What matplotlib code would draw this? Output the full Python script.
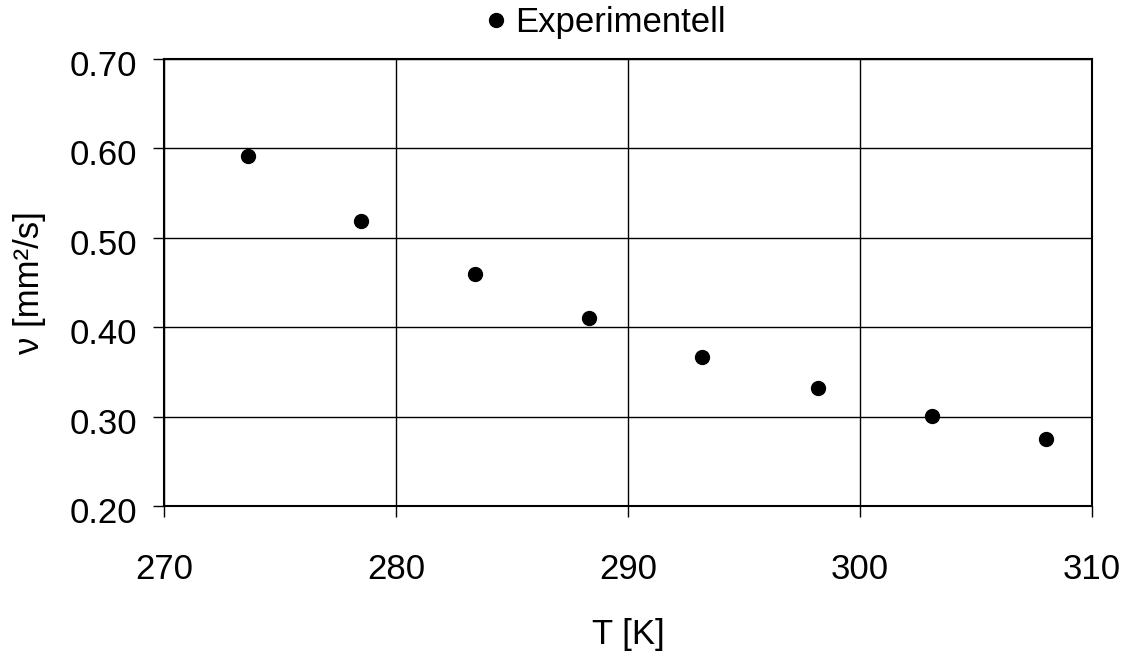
import matplotlib
matplotlib.use("Agg")
import matplotlib.pyplot as plt
import matplotlib.transforms as mtransforms

# Messwerte: Temperatur und kinematische Viskositaet
T = [273.6, 278.5, 283.4, 288.3, 293.2, 298.2, 303.1, 308.0]
nu = [0.591, 0.519, 0.459, 0.410, 0.367, 0.332, 0.301, 0.275]

x_ticks = [270, 280, 290, 300, 310]
y_ticks = [0.20, 0.30, 0.40, 0.50, 0.60, 0.70]

plt.rcParams['font.family'] = ['Liberation Sans', 'DejaVu Sans']

fig = plt.figure(figsize=(11.28, 6.58), dpi=100)
ax = fig.add_axes([0.1454, 0.231, 0.8227, 0.6793])

ax.plot(T, nu, 'o', color='black', markersize=10, label='Experimentell', zorder=3)

ax.set_xlim(270, 310)
ax.set_ylim(0.20, 0.70)
ax.set_xticks(x_ticks)
ax.set_yticks(y_ticks)
ax.set_yticklabels([f"{v:.2f}" for v in y_ticks])

ax.grid(True, color='black', linewidth=1.0)
for s in ax.spines.values():
    s.set_linewidth(1.5)
    s.set_color('black')

ax.tick_params(axis='y', direction='out', length=8, width=1, pad=11, labelsize=25)
ax.tick_params(axis='x', direction='out', length=8, width=1, pad=26, labelsize=25)

# Excel-Stil: y-Beschriftungen leicht nach unten versetzt
off = mtransforms.ScaledTranslation(0, -4 / 100, fig.dpi_scale_trans)
for lab in ax.get_yticklabels():
    lab.set_transform(lab.get_transform() + off)

ax.set_xlabel('T [K]', fontsize=25, labelpad=23)
ax.set_ylabel('ν [mm²/s]', fontsize=25, labelpad=17)

fig.legend(loc='center', bbox_to_anchor=(0.534, 0.966), frameon=False,
           fontsize=25, handletextpad=0.05, handlelength=1, borderaxespad=0)

fig.savefig('out.png', dpi=100)
